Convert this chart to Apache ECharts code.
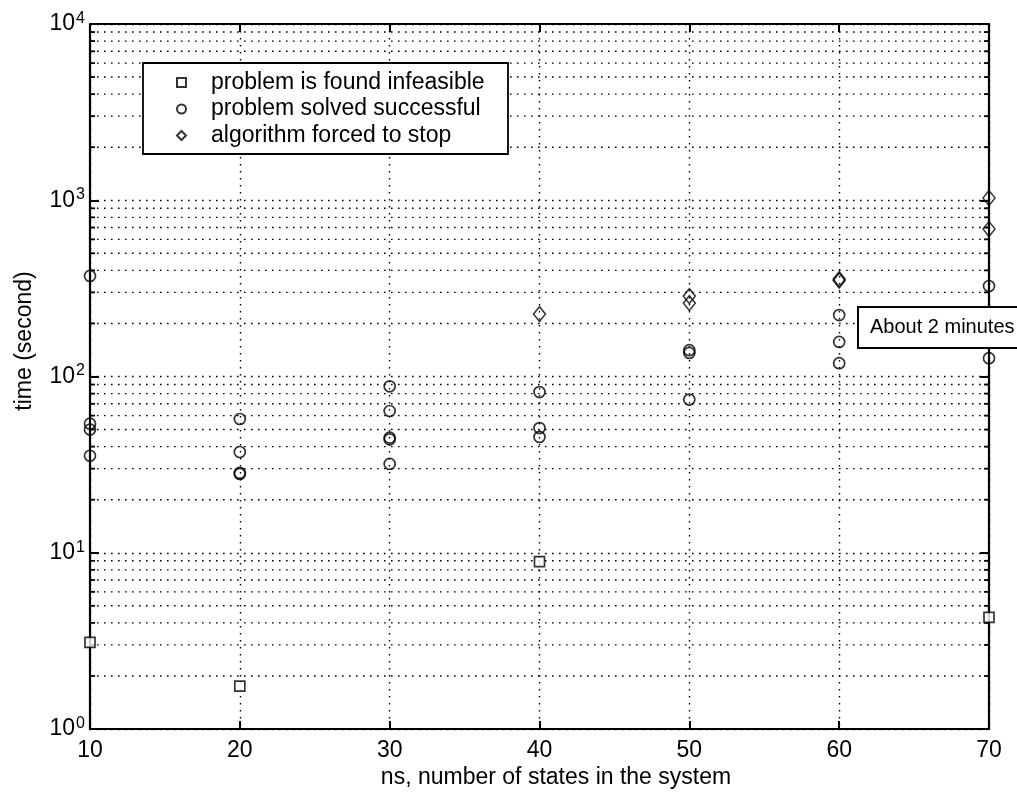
<!DOCTYPE html>
<html>
<head>
<meta charset="utf-8">
<script src="https://cdn.jsdelivr.net/npm/echarts@6/dist/echarts.min.js"></script>
<style>
  html, body { margin: 0; padding: 0; background: #fff; }
  #chart { width: 1017px; height: 792px; }
</style>
</head>
<body>
<div id="chart"></div>
<script>
// data: [ns, time in seconds]
const infeasible = [[10, 3.1], [20, 1.75], [40, 8.9], [70, 4.3]];
const solved = [
  [10, 372], [10, 54], [10, 50], [10, 35.5],
  [20, 57.4], [20, 37.3], [20, 28.4], [20, 28],
  [30, 88], [30, 63.7], [30, 45], [30, 44], [30, 31.9],
  [40, 81.6], [40, 51], [40, 45.4],
  [50, 141], [50, 136], [50, 74],
  [60, 223], [60, 157], [60, 119],
  [70, 326], [70, 127]
];
const forced = [[40, 226], [50, 286], [50, 261], [60, 357], [60, 350], [70, 1030], [70, 687]];

const seriesNames = ['problem is found infeasible', 'problem solved successful', 'algorithm forced to stop'];
// minor (2..9 per decade) grid lines of the log axis
const minorValues = [2, 3, 4, 5, 6, 7, 8, 9,
  20, 30, 40, 50, 60, 70, 80, 90,
  200, 300, 400, 500, 600, 700, 800, 900,
  2000, 3000, 4000, 5000, 6000, 7000, 8000, 9000];

const FONT = '"Liberation Sans", Arial, Helvetica, sans-serif';
const dotted = { color: '#000', width: 1.4, type: [1.6, 5.4] };

const chart = echarts.init(document.getElementById('chart'));

chart.setOption({
  animation: false,
  backgroundColor: '#fff',
  textStyle: { fontFamily: FONT, color: '#000' },
  grid: { left: 90, right: 28, top: 24, bottom: 63 },
  legend: {
    data: seriesNames,
    orient: 'vertical',
    left: 176, top: 71,
    padding: 0,
    itemWidth: 9, itemHeight: 9,
    itemGap: 3.5,
    selectedMode: false,
    z: 20,
    textStyle: { fontSize: 23, lineHeight: 22, fontFamily: FONT, color: '#000', padding: [0, 0, 0, 20] }
  },
  xAxis: [{
    type: 'value', min: 10, max: 70, interval: 10,
    axisLine: { lineStyle: { color: '#000', width: 2.2 } },
    axisTick: { inside: true, length: 8, lineStyle: { color: '#000', width: 2 } },
    axisLabel: { fontSize: 23, color: '#000', margin: 10, fontFamily: FONT },
    splitLine: { show: true, lineStyle: dotted }
  }, {
    type: 'value', min: 10, max: 70, interval: 10, position: 'top',
    axisLine: { lineStyle: { color: '#000', width: 2.2 } },
    axisTick: { inside: true, length: 8, lineStyle: { color: '#000', width: 2 } },
    axisLabel: { show: false },
    splitLine: { show: false }
  }],
  yAxis: [{
    type: 'log', logBase: 10, min: 1, max: 10000,
    axisLine: { show: true, lineStyle: { color: '#000', width: 2.2 } },
    axisTick: { inside: true, length: 9, lineStyle: { color: '#000', width: 2 } },
    axisLabel: {
      margin: 5,
      formatter: v => '{b|10}{s|' + Math.round(Math.log10(v)) + '}',
      rich: {
        b: { fontSize: 23, fontFamily: FONT, color: '#000' },
        s: { fontSize: 16, fontFamily: FONT, color: '#000', padding: [0, 0, 11, 1] }
      }
    },
    splitLine: { show: true, lineStyle: dotted }
  }, {
    type: 'log', logBase: 10, min: 1, max: 10000, position: 'right',
    axisLine: { show: true, lineStyle: { color: '#000', width: 2.2 } },
    axisTick: { inside: true, length: 9, lineStyle: { color: '#000', width: 2 } },
    axisLabel: { show: false },
    splitLine: { show: false }
  }],
  series: [{
    type: 'custom',
    silent: true,
    z: 1,
    data: minorValues.map(v => [v]),
    encode: { y: 0 },
    renderItem: (params, api) => {
      const v = api.value(0);
      const a = api.coord([10, v]);
      const b = api.coord([70, v]);
      const tickStyle = { stroke: '#000', lineWidth: 1.8 };
      return {
        type: 'group',
        children: [
          { type: 'line', shape: { x1: a[0], y1: a[1], x2: b[0], y2: b[1] },
            style: { stroke: '#000', lineWidth: 1.4, lineDash: [1.6, 5.4] } },
          { type: 'line', shape: { x1: a[0], y1: a[1], x2: a[0] + 5, y2: a[1] }, style: tickStyle },
          { type: 'line', shape: { x1: b[0], y1: b[1], x2: b[0] - 5, y2: b[1] }, style: tickStyle }
        ]
      };
    }
  }, {
    name: seriesNames[0], type: 'scatter', symbol: 'rect', symbolSize: 10, z: 5,
    itemStyle: { color: '#fff', borderColor: '#000', borderWidth: 1.7 }, data: infeasible
  }, {
    name: seriesNames[1], type: 'scatter', symbol: 'circle', symbolSize: 11, z: 5,
    itemStyle: { color: 'rgba(0,0,0,0)', borderColor: '#000', borderWidth: 1.7 }, data: solved
  }, {
    name: seriesNames[2], type: 'scatter', symbol: 'diamond', symbolSize: [12, 15], z: 5,
    itemStyle: { color: 'rgba(0,0,0,0)', borderColor: '#000', borderWidth: 1.5 }, data: forced
  }],
  graphic: [
    { type: 'rect', z: 15, shape: { x: 143, y: 63, width: 365, height: 91 },
      style: { fill: '#fff', stroke: '#000', lineWidth: 1.8 } },
    { type: 'rect', z: 15, shape: { x: 858, y: 307, width: 175, height: 41 },
      style: { fill: '#fff', stroke: '#000', lineWidth: 2 } },
    { type: 'text', z: 16, x: 870, y: 327.5,
      style: { text: 'About 2 minutes', fontSize: 20, fontFamily: FONT, fill: '#000', verticalAlign: 'middle' } },
    { type: 'text', z: 16, x: 556, y: 778,
      style: { text: 'ns, number of states in the system', fontSize: 23, fontFamily: FONT, fill: '#000',
               align: 'center', verticalAlign: 'middle' } },
    { type: 'text', z: 16, x: 25, y: 341, rotation: Math.PI / 2,
      style: { text: 'time (second)', fontSize: 23, fontFamily: FONT, fill: '#000',
               align: 'center', verticalAlign: 'middle' } }
  ]
});
</script>
</body>
</html>
